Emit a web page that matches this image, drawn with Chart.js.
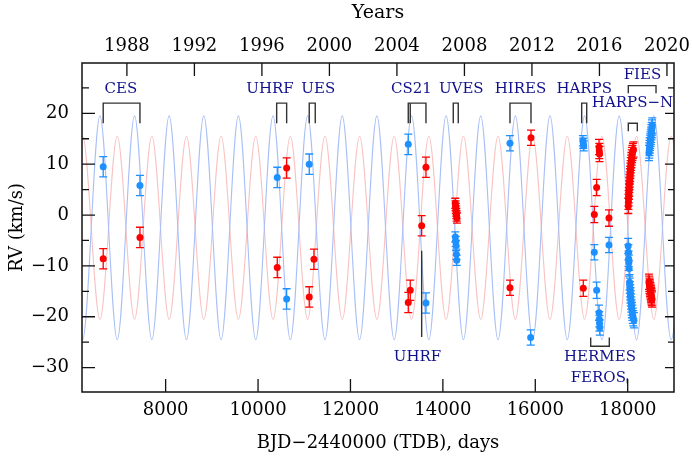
<!DOCTYPE html>
<html>
<head>
<meta charset="utf-8">
<script src="https://cdn.jsdelivr.net/npm/chart.js@4.4.1/dist/chart.umd.min.js"></script>
<style>
  html, body { margin: 0; padding: 0; background: #fff; }
  canvas { display: block; }
</style>
</head>
<body>
<canvas id="rvChart" width="692" height="459"></canvas>
<script>
// ---- data (BJD-2440000, km/s) ----

// blue component
const blueDays = [
    6649, 7444,                                   // CES
    10416, 10619,                                 // UHRF
    11108,                                        // UES
    13251, 13634,                                 // CS21
    14270, 14278, 14285, 14292, 14300,            // UVES
    15452, 15900,                                 // HIRES
    17030, 17039, 17048,                          // HARPS
    17277, 17328, 17380, 17385, 17390, 17396, 17595, // HERMES / FEROS
    18010, 18015, 18020, 18025, 18030, 18040, 18045, 18050, 18055, 18060,
    18066, 18072, 18078, 18085, 18092, 18100, 18110, 18120, 18135,   // HARPS-N
    18460, 18466, 18472, 18478, 18484, 18490, 18496, 18502, 18508, 18514,
    18520, 18526, 18532                           // FIES
];
const blueRV = [
    9.5, 5.8,
    7.4, -16.5,
    10.0,
    13.9, -17.3,
    -4.3, -5.2, -6.0, -7.7, -8.9,
    14.1, -24.1,
    14.6, 14.1, 13.6,
    -7.3, -14.8, -19.2, -20.5, -21.3, -22.1, -5.9,
    -6.1, -7.3, -8.6, -9.4, -10.5, -13.2, -13.9, -14.6, -15.2, -15.8,
    -16.4, -17.0, -17.6, -18.2, -18.7, -19.2, -19.8, -20.3, -20.7,
    12.2, 12.7, 13.2, 13.7, 14.2, 14.6, 15.0, 15.4, 15.8, 16.3,
    16.7, 17.2, 17.6
];
const blueErr = [
    2, 2,
    2, 2,
    2,
    2, 2,
    1, 1, 1, 1, 1,
    1.5, 1.5,
    1, 1, 1,
    1.5, 1.6, 1.5, 1.5, 1.5, 1.5, 1.5,
    1.5, 1.5, 1.5, 1.5, 1.5, 1.5, 1.5, 1.5, 1.5, 1.5,
    1.5, 1.5, 1.5, 1.5, 1.5, 1.5, 1.5, 1.5, 1.5,
    1.5, 1.5, 1.5, 1.5, 1.5, 1.5, 1.5, 1.5, 1.5, 1.5,
    1.5, 1.5, 1.5
];

// red component
const redDays = [
    6649, 7444,
    10416, 10619,
    11108, 11210,
    13251, 13294, 13541, 13634,
    14268, 14274, 14280, 14286, 14292, 14298, 14304,
    15452, 15907,
    17039,
    17277, 17328, 17380, 17385, 17390, 17595,
    18012, 18016, 18020, 18024, 18028, 18031, 18035, 18040, 18044, 18048,
    18053, 18058, 18063, 18068, 18074, 18080, 18087, 18094, 18102, 18112, 18125,
    18460, 18466, 18472, 18478, 18484, 18490, 18496, 18502, 18508, 18514,
    18520, 18526
];
const redRV = [
    -8.6, -4.4,
    -10.3, 9.25,
    -16.1, -8.7,
    -17.2, -14.8, -2.1, 9.4,
    2.3, 1.8, 1.3, 0.8, 0.3, -0.2, -0.6,
    -14.3, 15.2,
    -14.4,
    0.1, 5.4, 13.4, 12.6, 12.0, -0.6,
    1.8, 2.6, 3.3, 3.9, 4.6, 5.2, 5.9, 6.5, 7.0, 7.6,
    8.1, 8.7, 9.2, 9.8, 10.3, 10.8, 11.3, 11.8, 12.2, 12.6, 12.9,
    -13.1, -13.5, -13.9, -14.2, -14.5, -14.8, -15.1, -15.4, -15.7, -16.0,
    -16.3, -16.6
];
const redErr = [
    2, 2,
    2, 2,
    2, 2,
    2, 2, 2, 2,
    1, 1, 1, 1, 1, 1, 1,
    1.5, 1.5,
    1.6,
    1.6, 1.6, 1.5, 1.5, 1.5, 1.6,
    1.5, 1.5, 1.5, 1.5, 1.5, 1.5, 1.5, 1.5, 1.5, 1.5,
    1.5, 1.5, 1.5, 1.5, 1.5, 1.5, 1.5, 1.5, 1.5, 1.5, 1.5,
    1.5, 1.5, 1.5, 1.5, 1.5, 1.5, 1.5, 1.5, 1.5, 1.5,
    1.5, 1.5
];

// orbit curves: turning points
const curveDays = [
    5829, 6203, 6578, 6953, 7327, 7702, 8076, 8451, 8826, 9200,
    9575, 9950, 10324, 10699, 11073, 11448, 11822, 12197, 12572, 12946,
    13321, 13696, 14070, 14445, 14819, 15194, 15568, 15943, 16318, 16692,
    17067, 17442, 17816, 18191, 18565, 18940, 19314
];
const blueCurve = [
    19.5, -24.5, 19.5, -24.5, 19.5, -24.5, 19.5, -24.5, 19.5, -24.5,
    19.5, -24.5, 19.5, -24.5, 19.5, -24.5, 19.5, -24.5, 19.5, -24.5,
    19.5, -24.5, 19.5, -24.5, 19.5, -24.5, 19.5, -24.5, 19.5, -24.5,
    19.5, -24.5, 19.5, -24.5, 19.5, -24.5, 19.5
];
const redCurve = [
    -20.5, 15.5, -20.5, 15.5, -20.5, 15.5, -20.5, 15.5, -20.5, 15.5,
    -20.5, 15.5, -20.5, 15.5, -20.5, 15.5, -20.5, 15.5, -20.5, 15.5,
    -20.5, 15.5, -20.5, 15.5, -20.5, 15.5, -20.5, 15.5, -20.5, 15.5,
    -20.5, 15.5, -20.5, 15.5, -20.5, 15.5, -20.5
];

// axes
const xTicks = [8000, 10000, 12000, 14000, 16000, 18000];
const yTicks = [-30, -25, -20, -15, -10, -5, 0, 5, 10, 15, 20, 25];
const yearTicks = [1988, 1992, 1996, 2000, 2004, 2008, 2012, 2016, 2020];
const xMin = 6190, xMax = 19002;
const yMin = -34.8, yMax = 29.9;

// instrument brackets: [from, to, legEnd, barLevel]
const brackets = [
    [6649, 7444, 18.05, 22.0],
    [10403, 10619, 18.05, 22.0],
    [11108, 11238, 18.05, 22.0],
    [13251, 13634, 18.05, 22.0],
    [13294, 13294, 18.05, 22.0],
    [14225, 14333, 18.05, 22.0],
    [15452, 15907, 18.05, 22.0],
    [17004, 17113, 18.05, 22.0],
    [18013, 18613, 23.96, 25.45],
    [18013, 18208, 16.5, 18.05],
    [13541, 13541, -7.0, -24.0],
    [17199, 17602, -24.1, -25.8],
    [17991, 17991, -32.1, -33.1]
];
// instrument labels: [text, day, rv]
const labels = [
    ['CES', 7032, 24.8],
    ['UHRF', 10260, 24.8],
    ['UES', 11303, 24.8],
    ['CS21', 13320, 24.8],
    ['UVES', 14398, 24.8],
    ['HIRES', 15680, 24.8],
    ['HARPS', 17058, 24.8],
    ['FIES', 18320, 27.6],
    ['HARPS\u2212N', 18104, 22.0],
    ['UHRF', 13450, -28.0],
    ['HERMES', 17400, -28.0],
    ['FEROS', 17364, -32.0]
];

// BJD-2440000 of 1988.0
const yearZero = 7161.5;
function toYear(d) {
    return 1988 + (d - yearZero) / 365.25;
}

function toPoints(xs, ys) {
    return xs.map((x, i) => ({ x: x, y: ys[i] }));
}
function minus(v) {
    return v < 0 ? '\u2212' + Math.abs(v) : String(v);
}

const serif = "'DejaVu Serif', serif";
Chart.defaults.font.family = serif;
Chart.defaults.color = '#000';

const errorBars = [blueErr, redErr];

const decor = {
    id: 'decor',
    afterDatasetsDraw(chart) {
        const ctx = chart.ctx;
        const y = chart.scales.y;
        ctx.save();
        errorBars.forEach(function (errs, di) {
            const meta = chart.getDatasetMeta(di);
            const ds = chart.data.datasets[di];
            ctx.strokeStyle = ds.backgroundColor;
            ctx.lineWidth = 1.3;
            meta.data.forEach(function (pt, j) {
                const v = ds.data[j].y;
                const top = y.getPixelForValue(v + errs[j]);
                const bot = y.getPixelForValue(v - errs[j]);
                ctx.beginPath();
                ctx.moveTo(pt.x, top); ctx.lineTo(pt.x, bot);
                ctx.moveTo(pt.x - 4, top); ctx.lineTo(pt.x + 4, top);
                ctx.moveTo(pt.x - 4, bot); ctx.lineTo(pt.x + 4, bot);
                ctx.stroke();
            });
        });
        ctx.restore();
    },
    afterDraw(chart) {
        const ctx = chart.ctx;
        const a = chart.chartArea;
        const x = chart.scales.x, y = chart.scales.y, x2 = chart.scales.x2;
        ctx.save();

        // brackets
        ctx.strokeStyle = '#333';
        ctx.lineWidth = 1.4;
        brackets.forEach(function (b) {
            const xa = x.getPixelForValue(b[0]), xb = x.getPixelForValue(b[1]);
            const yl = y.getPixelForValue(b[2]), yb = y.getPixelForValue(b[3]);
            ctx.beginPath();
            ctx.moveTo(xa, yl); ctx.lineTo(xa, yb); ctx.lineTo(xb, yb); ctx.lineTo(xb, yl);
            ctx.stroke();
        });

        // labels
        ctx.fillStyle = '#10108c';
        ctx.font = '15px ' + serif;
        ctx.textAlign = 'center';
        ctx.textBaseline = 'middle';
        labels.forEach(function (l) {
            ctx.fillText(l[0], x.getPixelForValue(l[1]), y.getPixelForValue(l[2]));
        });

        // frame
        ctx.strokeStyle = '#111';
        ctx.lineWidth = 1.5;
        ctx.strokeRect(a.left, a.top, a.right - a.left, a.bottom - a.top);

        // inward ticks
        ctx.lineWidth = 1.3;
        ctx.beginPath();
        y.ticks.forEach(function (t) {
            const py = y.getPixelForValue(t.value);
            const major = t.value % 10 === 0;
            ctx.moveTo(a.left, py); ctx.lineTo(a.left + (major ? 13 : 7), py);
            ctx.moveTo(a.right, py); ctx.lineTo(a.right - (major ? 9 : 6), py);
        });
        x.ticks.forEach(function (t) {
            const px = x.getPixelForValue(t.value);
            ctx.moveTo(px, a.bottom); ctx.lineTo(px, a.bottom - 13);
        });
        x2.ticks.forEach(function (t) {
            const px = x2.getPixelForValue(t.value);
            ctx.moveTo(px, a.top); ctx.lineTo(px, a.top + 13);
        });
        ctx.stroke();
        ctx.restore();
    }
};

const tickFont = { family: serif, size: 18 };

// keep the plot box fixed: no extra room for overhanging tick labels
function fixHorizontal(h) {
    return function (s) {
        s.height = h;
        s.paddingLeft = 0;
        s.paddingRight = 0;
    };
}

new Chart(document.getElementById('rvChart').getContext('2d'), {
    type: 'scatter',
    data: {
        datasets: [
            {
                data: toPoints(blueDays, blueRV),
                backgroundColor: '#1e90ff',
                borderColor: '#1e90ff',
                pointRadius: 3.5,
                borderWidth: 0
            },
            {
                data: toPoints(redDays, redRV),
                backgroundColor: '#ff0000',
                borderColor: '#ff0000',
                pointRadius: 3.5,
                borderWidth: 0
            },
            {
                type: 'line',
                data: toPoints(curveDays, blueCurve),
                borderColor: '#a9bff6',
                borderWidth: 1.1,
                pointRadius: 0,
                cubicInterpolationMode: 'monotone',
                fill: false
            },
            {
                type: 'line',
                data: toPoints(curveDays, redCurve),
                borderColor: '#f9c3c3',
                borderWidth: 1.1,
                pointRadius: 0,
                cubicInterpolationMode: 'monotone',
                fill: false
            }
        ]
    },
    options: {
        responsive: false,
        animation: false,
        events: [],
        layout: { padding: { left: 0, right: 18, top: 0, bottom: 0 } },
        plugins: {
            legend: { display: false },
            tooltip: { enabled: false }
        },
        scales: {
            x: {
                type: 'linear',
                position: 'bottom',
                min: xMin,
                max: xMax,
                afterFit: fixHorizontal(67),
                afterBuildTicks: function (s) { s.ticks = xTicks.map(v => ({ value: v })); },
                grid: { display: false, drawTicks: false },
                border: { display: false },
                ticks: { font: tickFont, padding: 8, maxRotation: 0, callback: v => String(v) },
                title: {
                    display: true,
                    text: 'BJD\u22122440000 (TDB), days',
                    font: { family: serif, size: 18 },
                    padding: { top: 0, bottom: 5 }
                }
            },
            x2: {
                type: 'linear',
                position: 'top',
                min: toYear(xMin),
                max: toYear(xMax),
                afterFit: fixHorizontal(63),
                afterBuildTicks: function (s) { s.ticks = yearTicks.map(v => ({ value: v })); },
                grid: { display: false, drawTicks: false },
                border: { display: false },
                ticks: { font: tickFont, padding: 6, maxRotation: 0, callback: v => String(v) },
                title: {
                    display: true,
                    text: 'Years',
                    font: { family: serif, size: 19 },
                    padding: { top: 2, bottom: 0 }
                }
            },
            y: {
                type: 'linear',
                position: 'left',
                min: yMin,
                max: yMax,
                afterFit: function (s) { s.width = 82; },
                afterBuildTicks: function (s) { s.ticks = yTicks.map(v => ({ value: v })); },
                grid: { display: false, drawTicks: false },
                border: { display: false },
                ticks: {
                    font: tickFont,
                    padding: 13,
                    callback: v => (v % 10 === 0 ? minus(v) : '')
                },
                title: {
                    display: true,
                    text: 'RV (km/s)',
                    font: { family: serif, size: 18 },
                    padding: { top: 7, bottom: 0 }
                }
            }
        }
    },
    plugins: [decor]
});
</script>
</body>
</html>
